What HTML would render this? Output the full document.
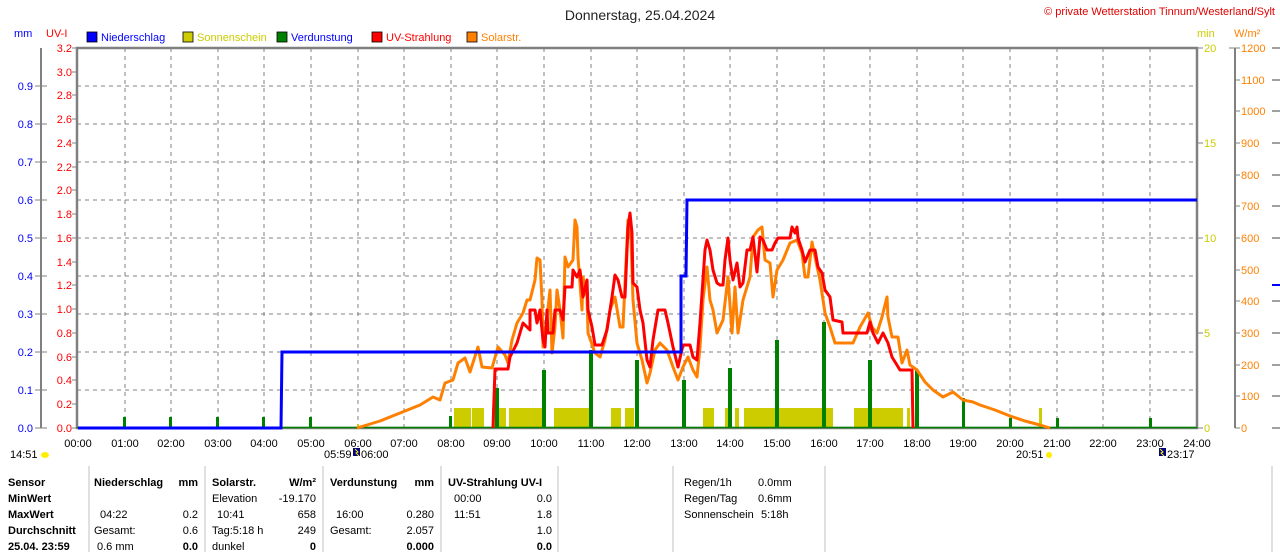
<!DOCTYPE html>
<html><head><meta charset="utf-8"><style>
html,body{margin:0;padding:0;background:#fff;}
svg{display:block;font-family:"Liberation Sans",Arial,sans-serif;}
</style></head><body>
<svg width="1280" height="552" viewBox="0 0 1280 552" xmlns="http://www.w3.org/2000/svg">
<rect width="1280" height="552" fill="#fff"/>
<text x="640" y="20" font-size="14" text-anchor="middle" fill="#222">Donnerstag, 25.04.2024</text>
<text x="1275" y="15" font-size="11" text-anchor="end" fill="#e00000">© private Wetterstation Tinnum/Westerland/Sylt</text>
<g font-size="11">
<text x="14" y="37" fill="#0000ff">mm</text>
<text x="46" y="37" fill="#ff0000">UV-I</text>
<rect x="87" y="32" width="10" height="10" fill="#0000ff" stroke="#000" stroke-width="0.8"/><text x="101" y="41" fill="#0000ff">Niederschlag</text>
<rect x="183" y="32" width="10" height="10" fill="#cccc00" stroke="#000" stroke-width="0.8"/><text x="197" y="41" fill="#cccc00">Sonnenschein</text>
<rect x="277" y="32" width="10" height="10" fill="#008000" stroke="#000" stroke-width="0.8"/><text x="291" y="41" fill="#0000ff">Verdunstung</text>
<rect x="372" y="32" width="10" height="10" fill="#ff0000" stroke="#000" stroke-width="0.8"/><text x="386" y="41" fill="#ff0000">UV-Strahlung</text>
<rect x="467" y="32" width="10" height="10" fill="#ff8000" stroke="#000" stroke-width="0.8"/><text x="481" y="41" fill="#ff8000">Solarstr.</text>
<text x="1197" y="37" fill="#cccc00">min</text>
<text x="1234" y="37" fill="#ff8000">W/m²</text>
</g>
<!-- grid -->
<g stroke="#808080" stroke-width="1" stroke-dasharray="4,4">
<line x1="125" y1="48" x2="125" y2="428"/><line x1="171" y1="48" x2="171" y2="428"/><line x1="218" y1="48" x2="218" y2="428"/><line x1="264" y1="48" x2="264" y2="428"/><line x1="311" y1="48" x2="311" y2="428"/><line x1="358" y1="48" x2="358" y2="428"/><line x1="404" y1="48" x2="404" y2="428"/><line x1="451" y1="48" x2="451" y2="428"/><line x1="497" y1="48" x2="497" y2="428"/><line x1="544" y1="48" x2="544" y2="428"/><line x1="591" y1="48" x2="591" y2="428"/><line x1="637" y1="48" x2="637" y2="428"/><line x1="684" y1="48" x2="684" y2="428"/><line x1="730" y1="48" x2="730" y2="428"/><line x1="777" y1="48" x2="777" y2="428"/><line x1="824" y1="48" x2="824" y2="428"/><line x1="870" y1="48" x2="870" y2="428"/><line x1="917" y1="48" x2="917" y2="428"/><line x1="963" y1="48" x2="963" y2="428"/><line x1="1010" y1="48" x2="1010" y2="428"/><line x1="1057" y1="48" x2="1057" y2="428"/><line x1="1103" y1="48" x2="1103" y2="428"/><line x1="1150" y1="48" x2="1150" y2="428"/>
<line x1="77" y1="86" x2="1197" y2="86"/><line x1="77" y1="124" x2="1197" y2="124"/><line x1="77" y1="162" x2="1197" y2="162"/><line x1="77" y1="200" x2="1197" y2="200"/><line x1="77" y1="238" x2="1197" y2="238"/><line x1="77" y1="276" x2="1197" y2="276"/><line x1="77" y1="314" x2="1197" y2="314"/><line x1="77" y1="352" x2="1197" y2="352"/><line x1="77" y1="390" x2="1197" y2="390"/>
</g>
<!-- axes -->
<g stroke="#808080" fill="none">
<rect x="77" y="48" width="1120" height="380" stroke-width="2.5"/>
<line x1="41" y1="48" x2="41" y2="428" stroke-width="2"/>
<line x1="1235" y1="48" x2="1235" y2="428" stroke-width="2"/>
<path d="M35 86H47M35 124H47M35 162H47M35 200H47M35 238H47M35 276H47M35 314H47M35 352H47M35 390H47M35 428H47"/>
<path d="M72 48H77M72 72H77M72 95H77M72 119H77M72 143H77M72 167H77M72 190H77M72 214H77M72 238H77M72 262H77M72 285H77M72 309H77M72 333H77M72 357H77M72 380H77M72 404H77M72 428H77"/>
<path d="M1197 48H1203M1197 143H1203M1197 238H1203M1197 333H1203M1197 428H1203"/>
<path d="M1229 48H1240M1235 80H1240M1235 111H1240M1235 143H1240M1235 175H1240M1235 206H1240M1235 238H1240M1235 270H1240M1235 301H1240M1235 333H1240M1235 365H1240M1235 396H1240M1235 428H1240"/>
<path d="M1272 48H1280M1272 80H1280M1272 111H1280M1272 143H1280M1272 175H1280M1272 206H1280M1272 238H1280M1272 301H1280M1272 333H1280M1272 365H1280M1272 396H1280M1272 428H1280" stroke-width="1.5"/>
</g>
<line x1="1272" y1="285" x2="1280" y2="285" stroke="#0000ff" stroke-width="2"/>
<g font-size="11" fill="#0000ff" text-anchor="end">
<text x="33" y="90">0.9</text><text x="33" y="128">0.8</text><text x="33" y="166">0.7</text><text x="33" y="204">0.6</text><text x="33" y="242">0.5</text><text x="33" y="280">0.4</text><text x="33" y="318">0.3</text><text x="33" y="356">0.2</text><text x="33" y="394">0.1</text><text x="33" y="432">0.0</text>
</g>
<g font-size="11" fill="#ff0000" text-anchor="end">
<text x="72" y="52">3.2</text><text x="72" y="76">3.0</text><text x="72" y="99">2.8</text><text x="72" y="123">2.6</text><text x="72" y="147">2.4</text><text x="72" y="171">2.2</text><text x="72" y="194">2.0</text><text x="72" y="218">1.8</text><text x="72" y="242">1.6</text><text x="72" y="266">1.4</text><text x="72" y="289">1.2</text><text x="72" y="313">1.0</text><text x="72" y="337">0.8</text><text x="72" y="361">0.6</text><text x="72" y="384">0.4</text><text x="72" y="408">0.2</text><text x="72" y="432">0.0</text>
</g>
<g font-size="11" fill="#cccc00">
<text x="1204" y="52">20</text><text x="1204" y="147">15</text><text x="1204" y="242">10</text><text x="1204" y="337">5</text><text x="1204" y="432">0</text>
</g>
<g font-size="11" fill="#ff8000">
<text x="1241" y="52">1200</text><text x="1241" y="84">1100</text><text x="1241" y="115">1000</text><text x="1241" y="147">900</text><text x="1241" y="179">800</text><text x="1241" y="210">700</text><text x="1241" y="242">600</text><text x="1241" y="274">500</text><text x="1241" y="305">400</text><text x="1241" y="337">300</text><text x="1241" y="369">200</text><text x="1241" y="400">100</text><text x="1241" y="432">0</text>
</g>
<!-- sunshine -->
<g fill="#cccc00">
<rect x="357" y="424" width="2" height="4"/>
<rect x="454" y="408" width="17" height="20"/><rect x="472" y="408" width="12" height="20"/><rect x="492" y="408" width="14" height="20"/><rect x="509" y="408" width="33" height="20"/><rect x="554" y="408" width="35" height="20"/><rect x="611" y="408" width="10" height="20"/><rect x="625" y="408" width="9" height="20"/><rect x="703" y="408" width="11" height="20"/><rect x="725" y="408" width="4" height="20"/><rect x="735" y="408" width="4" height="20"/><rect x="744" y="408" width="89" height="20"/><rect x="854" y="408" width="49" height="20"/><rect x="907" y="408" width="3" height="20"/><rect x="1039" y="408" width="3" height="20"/>
</g>
<!-- evaporation -->
<g fill="#008000">
<rect x="123" y="417" width="3" height="11"/><rect x="169" y="417" width="3" height="11"/><rect x="216" y="417" width="3" height="11"/><rect x="262" y="417" width="3" height="11"/><rect x="309" y="417" width="3" height="11"/><rect x="449" y="416" width="3" height="12"/><rect x="495" y="388" width="4" height="40"/><rect x="542" y="370" width="4" height="58"/><rect x="589" y="350" width="4" height="78"/><rect x="635" y="360" width="4" height="68"/><rect x="682" y="380" width="4" height="48"/><rect x="728" y="368" width="4" height="60"/><rect x="775" y="340" width="4" height="88"/><rect x="822" y="322" width="4" height="106"/><rect x="868" y="360" width="4" height="68"/><rect x="915" y="370" width="4" height="58"/><rect x="962" y="398" width="3" height="30"/><rect x="1009" y="418" width="3" height="10"/><rect x="1056" y="418" width="3" height="10"/><rect x="1149" y="418" width="3" height="10"/>
</g>
<line x1="77" y1="427.5" x2="1197" y2="427.5" stroke="#008000" stroke-width="1.5"/>
<!-- solar -->
<polyline fill="none" stroke="#ff8000" stroke-width="3" stroke-linejoin="round" points="357,428 380,421 400,413 415,407 420,405 433,397 440,400 445,383 453,380 458,363 465,358 470,372 478,347 482,367 492,368 498,347 505,355 508,363 512,340 517,323 523,313 527,300 530,300 535,280 537,258 540,260 542,300 543,347 547,317 550,290 552,353 555,327 557,290 560,310 563,338 565,257 568,267 573,260 575,220 577,227 578,257 582,310 583,277 587,297 588,333 595,353 600,357 605,340 610,310 615,297 620,327 623,327 628,220 631,240 633,300 637,343 642,360 647,383 650,373 655,350 660,343 667,350 673,367 678,380 683,367 688,357 693,370 697,377 700,347 703,300 707,267 710,300 713,310 717,333 723,320 728,277 732,333 735,287 738,333 743,300 750,277 753,237 758,230 762,227 765,260 770,263 773,297 777,270 783,260 790,243 797,240 802,253 805,277 808,277 812,242 815,257 820,280 825,313 830,327 835,343 843,343 853,343 860,327 868,313 872,327 877,333 882,317 887,297 888,317 892,337 898,337 902,363 907,350 910,365 917,370 925,382 933,390 943,397 953,392 963,400 973,402 980,405 995,410 1010,416 1025,421 1040,425 1050,428"/>
<!-- UV -->
<polyline fill="none" stroke="#ff0000" stroke-width="3" stroke-linejoin="round" points="493,428 495,369 508,369 510,357 517,343 520,333 523,323 530,330 530,310 535,310 537,323 540,310 543,340 545,347 547,310 548,333 553,333 555,310 560,310 563,320 565,287 572,287 573,270 577,277 580,270 583,297 587,280 588,310 592,327 595,345 602,345 607,330 612,297 615,275 618,280 622,297 625,297 628,227 630,213 632,233 633,283 637,287 640,310 643,323 647,360 650,367 653,340 658,310 665,310 668,323 673,347 678,367 683,345 690,345 693,357 697,360 700,323 705,250 707,240 710,250 713,270 717,283 720,285 723,285 725,260 728,238 730,260 733,280 737,263 740,287 743,283 747,250 750,250 753,237 757,272 760,237 763,240 767,250 772,250 775,243 778,238 790,238 792,227 795,233 797,227 798,238 802,250 805,262 810,250 815,250 818,267 822,273 825,290 830,297 833,320 842,322 843,333 867,333 870,322 873,333 878,343 883,333 888,343 892,357 900,370 912,370 913,428"/>
<!-- precip -->
<polyline fill="none" stroke="#0000ff" stroke-width="3" points="78,428 281,428 282,352 681,352 681,276 686,276 687,200 1197,200"/>
<!-- x labels -->
<g font-size="11" fill="#000" text-anchor="middle">
<text x="78" y="447">00:00</text><text x="125" y="447">01:00</text><text x="171" y="447">02:00</text><text x="218" y="447">03:00</text><text x="264" y="447">04:00</text><text x="311" y="447">05:00</text><text x="358" y="447">06:00</text><text x="404" y="447">07:00</text><text x="451" y="447">08:00</text><text x="497" y="447">09:00</text><text x="544" y="447">10:00</text><text x="591" y="447">11:00</text><text x="637" y="447">12:00</text><text x="684" y="447">13:00</text><text x="730" y="447">14:00</text><text x="777" y="447">15:00</text><text x="824" y="447">16:00</text><text x="870" y="447">17:00</text><text x="917" y="447">18:00</text><text x="963" y="447">19:00</text><text x="1010" y="447">20:00</text><text x="1057" y="447">21:00</text><text x="1103" y="447">22:00</text><text x="1150" y="447">23:00</text><text x="1197" y="447">24:00</text>
</g>
<g font-size="11" fill="#000">
<text x="10" y="458">14:51</text><ellipse cx="45" cy="455" rx="4" ry="3" fill="#ffee00"/>
<text x="324" y="458">05:59</text><rect x="353" y="448" width="7" height="8" fill="#000080"/><path d="M355 449l3 3-2 1 3 3" stroke="#ffee00" fill="none"/><text x="361" y="458">06:00</text>
<text x="1016" y="458">20:51</text><ellipse cx="1049" cy="455" rx="3" ry="3" fill="#ffee00"/>
<rect x="1159" y="448" width="7" height="8" fill="#000080"/><path d="M1160 449l3 3-2 1 3 3" stroke="#ffee00" fill="none"/><text x="1167" y="458">23:17</text>
</g>
<!-- table -->
<g stroke="#c0c0c0" stroke-width="1">
<line x1="89" y1="466" x2="89" y2="552"/><line x1="205" y1="466" x2="205" y2="552"/><line x1="323" y1="466" x2="323" y2="552"/><line x1="441" y1="466" x2="441" y2="552"/><line x1="558" y1="466" x2="558" y2="552"/><line x1="673" y1="466" x2="673" y2="552"/><line x1="825" y1="466" x2="825" y2="552"/><line x1="1272" y1="466" x2="1272" y2="552"/>
</g>
<g font-size="11" fill="#000">
<g font-weight="bold">
<text x="8" y="486">Sensor</text><text x="8" y="502">MinWert</text><text x="8" y="518">MaxWert</text><text x="8" y="534">Durchschnitt</text><text x="8" y="550">25.04. 23:59</text>
<text x="94" y="486">Niederschlag</text><text x="198" y="486" text-anchor="end">mm</text>
<text x="212" y="486">Solarstr.</text><text x="316" y="486" text-anchor="end">W/m²</text>
<text x="330" y="486">Verdunstung</text><text x="434" y="486" text-anchor="end">mm</text>
<text x="448" y="486">UV-Strahlung UV-I</text>
<text x="198" y="550" text-anchor="end">0.0</text><text x="316" y="550" text-anchor="end">0</text><text x="434" y="550" text-anchor="end">0.000</text><text x="552" y="550" text-anchor="end">0.0</text>
</g>
<text x="100" y="518">04:22</text><text x="198" y="518" text-anchor="end">0.2</text>
<text x="94" y="534">Gesamt:</text><text x="198" y="534" text-anchor="end">0.6</text>
<text x="97" y="550">0.6 mm</text>
<text x="212" y="502">Elevation</text><text x="316" y="502" text-anchor="end">-19.170</text>
<text x="217" y="518">10:41</text><text x="316" y="518" text-anchor="end">658</text>
<text x="212" y="534">Tag:5:18 h</text><text x="316" y="534" text-anchor="end">249</text>
<text x="212" y="550">dunkel</text>
<text x="336" y="518">16:00</text><text x="434" y="518" text-anchor="end">0.280</text>
<text x="330" y="534">Gesamt:</text><text x="434" y="534" text-anchor="end">2.057</text>
<text x="454" y="502">00:00</text><text x="552" y="502" text-anchor="end">0.0</text>
<text x="454" y="518">11:51</text><text x="552" y="518" text-anchor="end">1.8</text>
<text x="552" y="534" text-anchor="end">1.0</text>
<text x="684" y="486">Regen/1h</text><text x="758" y="486">0.0mm</text>
<text x="684" y="502">Regen/Tag</text><text x="758" y="502">0.6mm</text>
<text x="684" y="518">Sonnenschein</text><text x="761" y="518">5:18h</text>
</g>
</svg>
</body></html>
